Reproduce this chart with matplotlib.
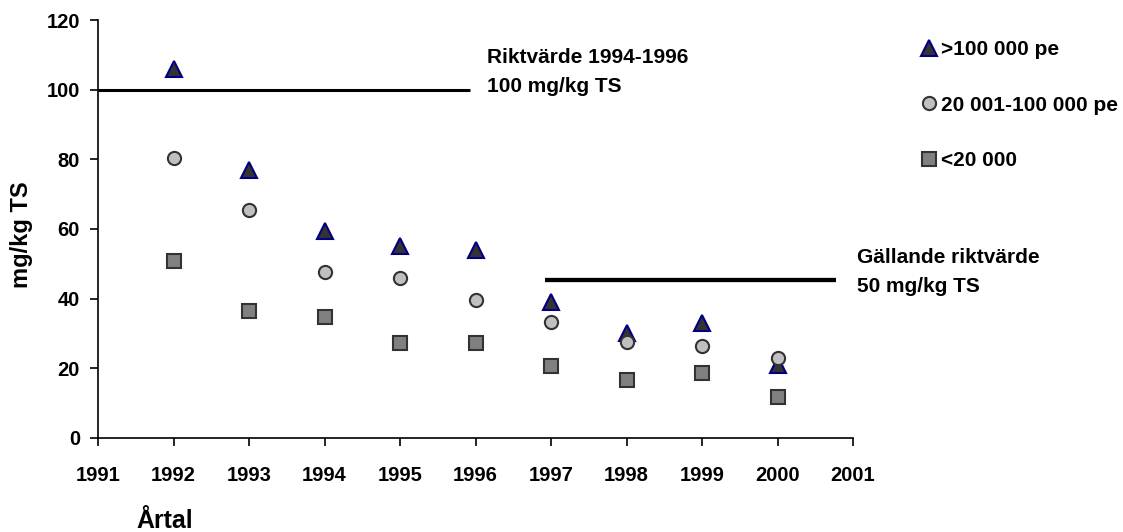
import matplotlib.pyplot as plt

plt.rcParams['font.family'] = ['Liberation Sans', 'DejaVu Sans']
plt.rcParams['font.weight'] = 'bold'

years = [1992, 1993, 1994, 1995, 1996, 1997, 1998, 1999, 2000]
large = [106, 77, 59.4, 55, 54, 39, 30, 33, 21]          # >100 000 pe
medium = [80.4, 65.5, 47.7, 46, 39.6, 33.3, 27.6, 26.4, 23]  # 20 001-100 000 pe
small = [50.8, 36.5, 34.7, 27.3, 27.3, 20.7, 16.7, 18.7, 11.8]  # <20 000

old_limit = 100
old_span = [1991, 1995.93]
new_limit = 45.5
new_span = [1996.92, 2000.77]

fig = plt.figure(figsize=(11.23, 5.32), dpi=100)
ax = fig.add_axes([0.0873, 0.1767, 0.6723, 0.7857])

ax.plot(old_span, [old_limit, old_limit], color='black', lw=2.2, solid_capstyle='butt')
ax.plot(new_span, [new_limit, new_limit], color='black', lw=3.1, solid_capstyle='butt')

ax.plot(years, large, ls='none', marker='^', ms=11, mfc='#333333', mec='#000080',
        mew=1.5, label='>100 000 pe', zorder=3)
ax.plot(years, medium, ls='none', marker='o', ms=9.5, mfc='#c0c0c0', mec='#333333',
        mew=1.5, label='20 001-100 000 pe', zorder=4)
ax.plot(years, small, ls='none', marker='s', ms=10.5, mfc='#808080', mec='#333333',
        mew=1.5, label='<20 000', zorder=3)

ax.set_xlim(1991, 2001)
ax.set_ylim(0, 120)
ax.set_xticks(range(1991, 2002))
ax.set_yticks(range(0, 121, 20))
ax.tick_params(labelsize=14.5, length=6, width=1.2)
ax.tick_params(axis='x', pad=14)
ax.tick_params(axis='y', pad=7)
for lbl in ax.get_xticklabels() + ax.get_yticklabels():
    lbl.set_fontweight('bold')
for s in ['top', 'right']:
    ax.spines[s].set_visible(False)
for s in ['left', 'bottom']:
    ax.spines[s].set_linewidth(1.2)

ax.text(1996.15, 109.1, 'Riktvärde 1994-1996', fontsize=15, fontweight='bold', va='center')
ax.text(1996.15, 100.8, '100 mg/kg TS', fontsize=15, fontweight='bold', va='center')
ax.text(2001.05, 51.7, 'Gällande riktvärde', fontsize=15, fontweight='bold', va='center')
ax.text(2001.05, 43.4, '50 mg/kg TS', fontsize=15, fontweight='bold', va='center')

fig.text(0.019, 0.558, 'mg/kg TS', rotation=90, fontsize=17, fontweight='bold',
         ha='center', va='center')
fig.text(0.147, 0.02, 'Årtal', fontsize=18, fontweight='bold', ha='center', va='center')

leg = ax.legend(loc='upper left', bbox_to_anchor=(0.812, 0.94), bbox_transform=fig.transFigure,
                frameon=False, fontsize=15, handlelength=0.8, handletextpad=0.2,
                labelspacing=1.75, borderaxespad=0)
for t in leg.get_texts():
    t.set_fontweight('bold')

fig.savefig('out.png', dpi=100)
